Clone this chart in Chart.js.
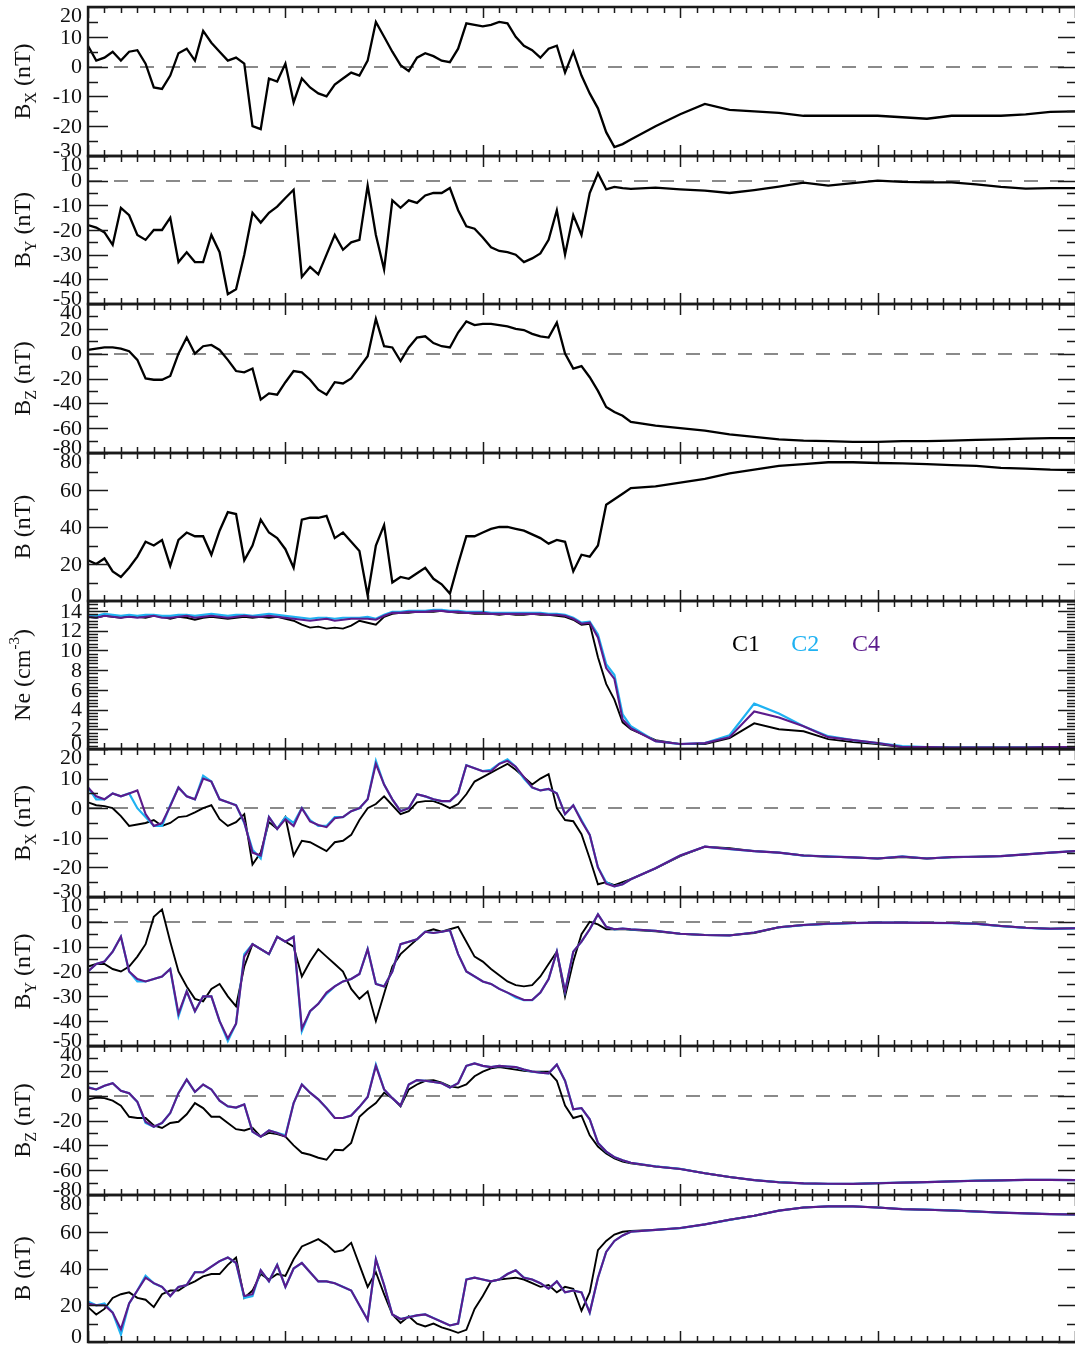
<!DOCTYPE html>
<html>
<head>
<meta charset="utf-8">
<script src="https://cdn.jsdelivr.net/npm/chart.js@4.4.1/dist/chart.umd.min.js"></script>
<style>
  html, body { margin: 0; padding: 0; background: #ffffff; }
  #fig { position: relative; width: 1075px; height: 1346px; overflow: hidden; background: #ffffff; }
  #fig canvas { position: absolute; left: 0; }
</style>
</head>
<body>
<div id="fig"></div>
<script>
// Time axis (minutes from start of interval)
const TIME = [
  0, 0.5, 1, 1.5, 2, 2.5, 3, 3.5, 4, 4.5,
  5, 5.5, 6, 6.5, 7, 7.5, 8, 8.5, 9, 9.5,
  10, 10.5, 11, 11.5, 12, 12.5, 13, 13.5, 14, 14.5,
  15, 15.5, 16, 16.5, 17, 17.5, 18, 18.5, 19, 19.5,
  20, 20.5, 21, 21.5, 22, 22.5, 23, 23.5, 24, 24.5,
  25, 25.5, 26, 26.5, 27, 27.5, 28, 28.5, 29, 29.5,
  30, 30.5, 31, 31.5, 32, 32.5, 33,
  34.5, 36, 37.5, 39, 40.5, 42, 43.5, 45, 46.5, 48, 49.5, 51, 52.5, 54, 55.5, 57, 58.5, 60
];

// Upper block: single-spacecraft magnetic field (nT)
const BX_TOP = [
  7, 2, 3, 5, 2, 5, 5.5, 1, -7, -7.5,
  -3, 4.5, 6, 2, 12, 8, 5, 2, 3, 1,
  -20, -21, -4, -5, 1, -12, -4, -7, -9, -10,
  -6, -4, -2, -3, 2, 15, 10, 5, 0.5, -1.5,
  3, 4.5, 3.5, 2, 1.5, 6, 14.5, 14, 13.5, 14,
  15, 14.5, 10, 7, 5.5, 3, 6, 7, -2, 5,
  -3, -9, -14, -22, -27, -26, -24.5,
  -20, -16, -12.5, -14.5, -15, -15.5, -16.5, -16.5, -16.5, -16.5, -17, -17.5, -16.5, -16.5, -16.5, -16, -15.2, -15
];
const BY_TOP = [
  -18, -19, -21, -26, -11, -14, -22, -24, -20, -20,
  -15, -33, -29, -33, -33, -22, -29, -46, -44, -30,
  -13, -17, -13, -10.5, -7, -3.7, -39, -35, -38, -30,
  -22, -28, -25, -24, -2, -22, -36, -8, -11, -8,
  -9, -6, -5, -5, -3, -12, -18.5, -19.5, -23, -27,
  -28.5, -29, -30, -33, -31.5, -29.5, -24, -12, -30, -14,
  -22, -5, 3, -3.5, -2.5, -3, -3.3,
  -2.8, -3.5, -4, -5, -3.8, -2.4, -0.8, -2, -1, 0, -0.5, -0.7, -0.7, -1.5, -2.5, -3.2, -3, -3
];
const BZ_TOP = [
  3, 4, 5, 5, 4, 2, -5, -20, -21, -21,
  -18, 0, 13, 0, 6, 7, 3, -5, -14, -15,
  -12, -37, -32, -33, -23, -14, -15, -21, -29, -33,
  -23, -24, -20, -11, -2, 28, 6, 5, -6, 5,
  13, 14, 8.5, 6, 5, 17, 26, 23, 24, 24,
  23, 22, 20, 19, 16, 14, 13, 25, 0, -12,
  -10, -19, -30, -43, -47, -50, -55,
  -58, -60, -62, -65, -67, -69, -70, -70.5, -71, -71, -70.5, -70.5, -70, -69.5, -69, -68.5, -68, -68
];
const B_TOP = [
  22, 20, 23, 16, 13, 18, 24, 32, 30, 33,
  19, 33, 37, 35, 35, 25, 38, 48, 47, 22,
  30, 44, 37, 34, 28, 18, 44, 45, 45, 46,
  34, 37, 32, 27, 3, 30, 41, 10, 13, 12,
  15, 18, 12, 9, 4, 20, 35, 35, 37, 39,
  40, 40, 39, 38, 36, 34, 31, 33, 32, 16,
  25, 24, 30, 52, 55, 58, 61,
  62, 64, 66, 69, 71, 73, 74, 75, 75, 74.6, 74.4, 74, 73.5, 73, 72, 71.5, 71, 70.8
];

// Electron density (cm^-3) for C1, C2, C4
const NE_C1 = [
  13.4, 13.3, 13.5, 13.4, 13.3, 13.5, 13.4, 13.3, 13.5, 13.4,
  13.2, 13.4, 13.3, 13.1, 13.3, 13.4, 13.3, 13.2, 13.3, 13.4,
  13.3, 13.4, 13.3, 13.4, 13.2, 13.0, 12.6, 12.3, 12.4, 12.2,
  12.3, 12.2, 12.5, 13.0, 12.8, 12.6, 13.4, 13.7, 13.8, 13.8,
  13.9, 13.9, 13.9, 14.0, 13.9, 13.8, 13.8, 13.7, 13.7, 13.7,
  13.6, 13.7, 13.6, 13.6, 13.7, 13.6, 13.6, 13.5, 13.4, 13.1,
  12.6, 12.7, 9.3, 6.6, 5.0, 2.7, 2.0,
  0.9, 0.5, 0.5, 1.1, 2.6, 2.0, 1.8, 1.0, 0.7, 0.5, 0.2, 0.2, 0.15, 0.15, 0.15, 0.15, 0.2, 0.2
];
const NE_C2 = [
  13.6, 13.5, 13.7, 13.6, 13.5, 13.6, 13.5, 13.6, 13.6, 13.5,
  13.5, 13.6, 13.6, 13.5, 13.6, 13.7, 13.6, 13.5, 13.6, 13.6,
  13.5, 13.6, 13.7, 13.6, 13.5, 13.4, 13.3, 13.2, 13.3, 13.3,
  13.2, 13.3, 13.3, 13.3, 13.4, 13.2, 13.6, 13.9, 13.9, 14.0,
  14.0, 14.0, 14.1, 14.1, 14.0, 14.0, 13.9, 13.9, 13.9, 13.8,
  13.8, 13.8, 13.8, 13.8, 13.8, 13.8, 13.7, 13.7, 13.6, 13.3,
  12.8, 12.9, 11.6, 8.6, 7.5, 3.5, 2.3,
  0.8, 0.5, 0.6, 1.4, 4.6, 3.6, 2.3, 1.3, 0.9, 0.6, 0.3, 0.2, 0.15, 0.15, 0.15, 0.15, 0.2, 0.2
];
const NE_C4 = [
  13.4, 13.3, 13.5, 13.4, 13.3, 13.4, 13.3, 13.4, 13.5, 13.3,
  13.3, 13.4, 13.5, 13.3, 13.4, 13.5, 13.4, 13.3, 13.4, 13.5,
  13.4, 13.4, 13.5, 13.4, 13.3, 13.2, 13.1, 13.0, 13.1, 13.2,
  13.0, 13.1, 13.2, 13.2, 13.2, 13.1, 13.5, 13.8, 13.8, 13.9,
  13.9, 13.9, 14.0, 14.0, 13.9, 13.9, 13.8, 13.8, 13.8, 13.7,
  13.7, 13.7, 13.7, 13.7, 13.7, 13.7, 13.6, 13.6, 13.5, 13.2,
  12.7, 12.8, 11.3, 8.2, 7.1, 3.0, 2.1,
  0.8, 0.5, 0.6, 1.2, 3.8, 3.2, 2.3, 1.2, 0.9, 0.6, 0.2, 0.2, 0.15, 0.15, 0.15, 0.15, 0.2, 0.2
];

// Lower block: magnetic field (nT) for C1, C2, C4
const BX_C1 = [
  2, 1, 0.7, 0, -2.7, -6, -5.5, -5, -4, -6,
  -5, -3, -2.7, -1.4, 0, 1, -3.7, -6, -4.7, -2,
  -19, -15, -4.7, -7, -3, -16, -11, -11.5, -13, -14.5,
  -11.5, -11, -9, -4, 0, 1.4, 4, 1, -2, -1,
  2, 2.4, 2.4, 1.4, 0, 1.4, 4.7, 9, 10.5, 12,
  13.5, 15, 13, 10.5, 8, 10, 11.5, 0, -4, -4.4,
  -8.8, -17, -25.7, -25, -26, -25, -24,
  -20.3, -16.2, -13, -13.5, -14.5, -15, -16, -16.4, -16.6, -17, -16.5, -17, -16.6, -16.4, -16.2, -15.6, -15, -14.5
];
const BX_C2 = [
  7, 3, 3, 5, 4, 5, 0, -3, -6, -6,
  1, 7, 4, 3, 11, 9, 3, 2, 1, -5,
  -14, -17, -3, -7, -3, -5, 0, -4, -6, -6,
  -3, -3, -1, 0, 3, 16, 8, 3, -1, 0,
  4.7, 4, 3, 2.4, 2.4, 5, 14.5, 13.5, 12.5, 13,
  15, 16.5, 14, 10, 7, 6, 6.5, 5, -2, 1,
  -4, -9, -20, -25, -26.4, -25.7, -24,
  -20.3, -16, -13, -13.8, -14.5, -15, -16, -16.3, -16.6, -17, -16.3, -17, -16.5, -16.4, -16.2, -15.6, -15, -14.5
];
const BX_C4 = [
  7, 4, 3, 5, 4, 5, 6, -2, -6, -5,
  0.7, 7, 4, 3, 10, 9, 3, 2, 1, -4.7,
  -15, -16, -3, -7, -3.7, -6, 0, -4.5, -5.7, -6.4,
  -3.4, -3, -1, 0, 3, 15, 8, 3, -1, 0,
  4.7, 4, 3, 2.4, 2.4, 5, 14.5, 13.5, 12.5, 12.5,
  15, 16, 14, 10.5, 7, 6, 6.5, 5, -2, 1,
  -4.4, -9, -20, -25.5, -26.4, -25.7, -24,
  -20.3, -16, -13, -13.8, -14.5, -15, -16, -16.3, -16.6, -17, -16.3, -17, -16.5, -16.4, -16.2, -15.6, -15, -14.5
];
const BY_C1 = [
  -18, -17, -17, -19, -20, -18, -14, -9, 2, 5,
  -8, -20, -26, -31, -32, -27, -25, -30, -34, -18,
  -9, -11, -13, -6, -8, -10, -22, -16, -11, -14,
  -17, -20, -27, -31, -28, -40, -29, -18, -13, -10,
  -7, -4, -3, -4, -3, -2, -8, -14, -16, -19,
  -21.5, -24, -25.5, -26, -25.5, -22, -17, -12, -30, -16,
  -5, 0, -1, -3, -3, -2.9, -3.2,
  -3.8, -4.8, -5.3, -5.4, -4.5, -2.2, -1.3, -0.8, -0.5, -0.3, -0.3, -0.4, -0.5, -0.8, -1.7, -2.4, -2.8, -2.6
];
const BY_C2 = [
  -20, -17, -16, -12, -6, -20, -24, -24, -23, -22,
  -19, -38, -28, -36, -30, -30, -40, -48, -41, -13,
  -9, -11, -13, -6, -8, -6, -44, -36, -33, -29,
  -26, -24, -23, -21, -11, -25, -26, -20, -9, -8,
  -7, -4, -4.5, -4, -3.4, -13, -20, -22, -24, -25,
  -27, -28.5, -30.5, -31.5, -31.5, -28.5, -23, -12, -28, -12,
  -8, -3, 3, -2, -3, -2.7, -3,
  -3.6, -4.8, -5.3, -5.5, -4.3, -2.2, -1.3, -0.8, -0.5, -0.3, -0.3, -0.4, -0.5, -0.8, -1.7, -2.4, -2.8, -2.6
];
const BY_C4 = [
  -20, -17, -16, -12, -6, -20, -23, -24, -23, -22,
  -19, -37, -28, -36, -30, -30, -40, -47, -41, -14,
  -9, -11, -13, -6, -8, -6, -43, -36, -33, -28.5,
  -26, -24, -23, -21, -11, -25, -26, -20, -9, -8,
  -7, -4, -4.5, -4, -3.4, -13, -20, -22, -24, -25,
  -27, -28.5, -30, -31.5, -31.5, -28.5, -23, -12, -28, -12,
  -8, -3, 3, -2, -3, -2.7, -3,
  -3.6, -4.8, -5.3, -5.5, -4.3, -2.2, -1.3, -0.8, -0.5, -0.3, -0.3, -0.4, -0.5, -0.8, -1.7, -2.4, -2.8, -2.6
];
const BZ_C1 = [
  -3, -1.6, -2, -4, -8, -17, -18, -18, -24, -26,
  -22, -21, -15, -6, -10, -17, -17, -22, -27, -28,
  -26, -33, -30, -31, -33, -40, -46, -47.6, -50, -51.6,
  -43.5, -44, -38, -17, -11, -6, 2.4, -2, -8.6, 5,
  9, 12, 12.5, 10.5, 7.5, 6.5, 9, 15.6, 19.4, 22,
  23, 22, 21, 20, 19.4, 19.4, 19.4, 12, -8, -18,
  -16, -32, -41, -46.5, -50.5, -53, -54.5,
  -57, -59, -62.5, -65.5, -68, -69.7, -70.6, -71, -71, -70.5, -70, -69.6, -69, -68.5, -68.2, -67.8, -67.8, -68
];
const BZ_C2 = [
  7, 5, 8, 10, 4, 2, -5, -22, -25, -22,
  -14, 2, 13, 3, 9, 5, -4, -8.6, -9.6, -7,
  -29, -33, -28, -30, -32, -6, 9, 2.4, -3, -10,
  -18, -18, -16, -9, -1, 25, 5, -2, -8, 9,
  12.5, 12, 11, 10, 6.5, 10, 24, 26, 24, 23,
  24, 23.5, 23, 21, 19.4, 18.5, 18, 25, 12, -11,
  -10, -19, -38, -45, -49.5, -52, -54,
  -57, -59, -62.5, -65.5, -68, -69.7, -70.6, -71, -71, -70.5, -70, -69.6, -69, -68.5, -68.2, -67.8, -67.8, -68
];
const BZ_C4 = [
  6.5, 5, 8, 10, 4, 2, -5, -21, -25, -22,
  -14, 2, 13, 3, 9, 5, -4, -8.6, -9.6, -7,
  -29, -33, -28, -30, -33, -6, 9, 2.4, -3, -10,
  -18, -18, -16, -9, -1, 24, 5, -2, -8, 9,
  12.5, 12, 11, 10, 6.5, 10, 24, 26, 24, 23,
  24, 23.5, 23, 21, 19.4, 18.5, 18, 25, 12, -11,
  -10, -19, -38, -45, -49.5, -52, -54,
  -57, -59, -62.5, -65.5, -68, -69.7, -70.6, -71, -71, -70.5, -70, -69.6, -69, -68.5, -68.2, -67.8, -67.8, -68
];
const B_C1 = [
  19, 15, 18, 24, 26, 27, 24, 23, 19, 26,
  28, 28, 31, 33, 35.7, 37, 37, 42, 46, 24,
  28, 37, 34, 37, 36, 45, 52, 54, 56, 53,
  49, 50, 54, 42, 30, 38, 26, 15, 10.4, 14,
  10, 8.5, 10, 8, 6.6, 5, 6.6, 18, 25, 33,
  34, 34.5, 35, 34, 32, 30, 31, 27, 30, 29,
  17, 27, 50, 55, 58.5, 60, 60.5,
  61, 62, 64, 66.5, 68.7, 71.5, 73.2, 73.8, 73.8, 73.2, 72.3, 72, 71.6, 71, 70.4, 70, 69.6, 69.4
];
const B_C2 = [
  22, 20, 21, 16, 4, 21, 28, 36, 32, 30,
  25, 30, 31, 38, 38, 41, 44, 46, 43, 24,
  25, 39, 33, 42, 30, 40, 43, 38, 33, 33,
  32, 30, 28, 20, 12, 45, 31, 15, 12.5, 13.5,
  14.5, 15, 13, 11, 9, 10, 34, 35, 34, 33,
  34, 37, 39, 35, 34, 32, 29, 33, 27, 28,
  27, 16, 35, 49, 55, 58, 60,
  61, 62, 64, 66.5, 68.7, 71.5, 73.2, 73.8, 73.8, 73.2, 72.3, 72, 71.6, 71, 70.4, 70, 69.6, 69.4
];
const B_C4 = [
  21, 20, 20, 16, 7, 21, 28, 35, 32, 30,
  25, 30, 31, 38, 38, 41, 44, 46, 43, 25,
  26, 39, 33, 42, 30, 40, 43, 38, 33, 33,
  32, 30, 28, 20, 12, 45, 31, 15, 12.5, 13.5,
  14.5, 15, 13, 11, 9, 10, 34, 35, 34, 33,
  34, 37, 39, 35, 34, 32, 29, 33, 27, 28,
  27, 16, 35, 49, 55, 58, 60,
  61, 62, 64, 66.5, 68.7, 71.5, 73.2, 73.8, 73.8, 73.2, 72.3, 72, 71.6, 71, 70.4, 70, 69.6, 69.4
];

// Tick labels of each kind of panel
const TICKS_BX = [20, 10, 0, -10, -20, -30];
const TICKS_BY = [10, 0, -10, -20, -30, -40, -50];
const TICKS_BZ = [40, 20, 0, -20, -40, -60, -80];
const TICKS_B = [80, 60, 40, 20, 0];
const TICKS_NE = [14, 12, 10, 8, 6, 4, 2, 0];

const SPACECRAFT = ['C1', 'C2', 'C4'];
const COLORS = { C1: '#000000', C2: '#1fb2f2', C4: '#5b1b8c' };

const SERIF = '"Liberation Serif", "Times New Roman", serif';
const PAD = 16;
const X_MIN = 0, X_MAX = 60;

const multi = (c1, c2, c4) => [
  { name: 'C1', values: c1, color: COLORS.C1, width: 1.9, order: 3 },
  { name: 'C2', values: c2, color: COLORS.C2, width: 2.2, order: 2 },
  { name: 'C4', values: c4, color: COLORS.C4, width: 2.1, order: 1 }
];
const single = (v) => [{ name: 'C1', values: v, color: '#000000', width: 2.3, order: 1 }];

const PANELS = [
  { top: 7,    bottom: 156,  min: -30, max: 20, ticks: TICKS_BX, minor: 5, zero: true, title: { main: 'B', sub: 'X', rest: ' (nT)' }, series: single(BX_TOP) },
  { top: 156,  bottom: 304,  min: -50, max: 10, ticks: TICKS_BY, minor: 5, zero: true, title: { main: 'B', sub: 'Y', rest: ' (nT)' }, series: single(BY_TOP) },
  { top: 304,  bottom: 453,  min: -80, max: 40, ticks: TICKS_BZ, minor: 10, zero: true, title: { main: 'B', sub: 'Z', rest: ' (nT)' }, series: single(BZ_TOP) },
  { top: 453,  bottom: 601,  min: 0,   max: 80, ticks: TICKS_B,  minor: 10, zero: false, title: { main: 'B (nT)' }, series: single(B_TOP) },
  { top: 601,  bottom: 749,  min: 0,   max: 15, ticks: TICKS_NE, minor: 1 / 3, zero: false, title: { main: 'Ne (cm', sup: '-3', rest: ')' }, series: multi(NE_C1, NE_C2, NE_C4), legend: true },
  { top: 749,  bottom: 897,  min: -30, max: 20, ticks: TICKS_BX, minor: 5, zero: true, title: { main: 'B', sub: 'X', rest: ' (nT)' }, series: multi(BX_C1, BX_C2, BX_C4) },
  { top: 897,  bottom: 1046, min: -50, max: 10, ticks: TICKS_BY, minor: 5, zero: true, title: { main: 'B', sub: 'Y', rest: ' (nT)' }, series: multi(BY_C1, BY_C2, BY_C4) },
  { top: 1046, bottom: 1195, min: -80, max: 40, ticks: TICKS_BZ, minor: 10, zero: true, title: { main: 'B', sub: 'Z', rest: ' (nT)' }, series: multi(BZ_C1, BZ_C2, BZ_C4) },
  { top: 1195, bottom: 1342, min: 0,   max: 80, ticks: TICKS_B,  minor: 10, zero: false, title: { main: 'B (nT)' }, series: multi(B_C1, B_C2, B_C4) }
];

// Draws the panel frame, inward ticks, zero line, tick labels, axis title and legend
const panelFrame = {
  id: 'panelFrame',
  beforeDatasetsDraw(chart, args, o) {
    if (!o.zero) return;
    const { ctx, chartArea: a } = chart;
    const y = chart.scales.y;
    const yy = Math.round(y.getPixelForValue(0));
    ctx.save();
    ctx.strokeStyle = '#8a8a8a';
    ctx.lineWidth = 2;
    ctx.setLineDash([14, 12]);
    ctx.beginPath();
    ctx.moveTo(a.left, yy);
    ctx.lineTo(a.right, yy);
    ctx.stroke();
    ctx.restore();
  },
  afterDatasetsDraw(chart, args, o) {
    const { ctx, chartArea: a } = chart;
    const x = chart.scales.x, y = chart.scales.y;
    ctx.save();
    ctx.strokeStyle = '#1a1a1a';
    ctx.lineWidth = 1.5;
    ctx.beginPath();
    for (let t = X_MIN; t <= X_MAX; t++) {
      const px = Math.round(x.getPixelForValue(t)) + 0.5;
      const len = t % 12 === 0 ? 11 : 6;
      ctx.moveTo(px, a.top); ctx.lineTo(px, a.top + len);
      ctx.moveTo(px, a.bottom); ctx.lineTo(px, a.bottom - len);
    }
    const n = Math.round((o.max - o.min) / o.minor);
    for (let k = 0; k <= n; k++) {
      const v = o.min + k * o.minor;
      const py = Math.round(y.getPixelForValue(v)) + 0.5;
      const major = o.ticks.some(l => Math.abs(l - v) < 1e-6);
      ctx.moveTo(a.left, py); ctx.lineTo(a.left + (major ? 20 : 10), py);
      ctx.moveTo(a.right, py); ctx.lineTo(a.right - (major ? 17 : 8), py);
    }
    ctx.stroke();

    ctx.lineWidth = 2.4;
    ctx.beginPath();
    ctx.moveTo(a.right, a.top);
    ctx.lineTo(a.left, a.top);
    ctx.lineTo(a.left, a.bottom);
    ctx.lineTo(a.right, a.bottom);
    ctx.stroke();

    // tick labels
    ctx.fillStyle = '#111111';
    ctx.font = '22px ' + SERIF;
    ctx.textAlign = 'right';
    ctx.textBaseline = 'middle';
    o.ticks.forEach(v => {
      let py = y.getPixelForValue(v);
      if (v === o.max) py += 8;
      else if (v === o.min) py -= 6;
      ctx.fillText(String(v), a.left - 6, py + 1);
    });

    // rotated axis title with sub/superscript
    const t = o.title;
    const parts = [{ s: t.main, size: 24, dy: 0 }];
    if (t.sub) parts.push({ s: t.sub, size: 16, dy: 6 });
    if (t.sup) parts.push({ s: t.sup, size: 15, dy: -11 });
    if (t.rest) parts.push({ s: t.rest, size: 24, dy: 0 });
    let total = 0;
    parts.forEach(p => { ctx.font = p.size + 'px ' + SERIF; p.w = ctx.measureText(p.s).width; total += p.w; });
    const cy = (a.top + a.bottom) / 2;
    ctx.translate(22, cy);
    ctx.rotate(-Math.PI / 2);
    ctx.textAlign = 'left';
    ctx.textBaseline = 'alphabetic';
    let cx = -total / 2;
    parts.forEach(p => {
      ctx.font = p.size + 'px ' + SERIF;
      ctx.fillText(p.s, cx, 8 + p.dy);
      cx += p.w;
    });
    ctx.setTransform(1, 0, 0, 1, 0, 0);

    if (o.legend) {
      ctx.font = '24px ' + SERIF;
      ctx.textAlign = 'center';
      ctx.textBaseline = 'middle';
      const lx = [x.getPixelForValue(40), x.getPixelForValue(43.6), x.getPixelForValue(47.3)];
      const ly = y.getPixelForValue(10.6);
      SPACECRAFT.forEach((name, i) => {
        ctx.fillStyle = COLORS[name];
        ctx.fillText(name, lx[i], ly);
      });
    }
    ctx.restore();
  }
};

const fig = document.getElementById('fig');
PANELS.forEach(p => {
  const canvas = document.createElement('canvas');
  const h = p.bottom - p.top + 2 * PAD;
  canvas.width = 1075;
  canvas.height = h;
  canvas.style.width = '1075px';
  canvas.style.height = h + 'px';
  canvas.style.top = (p.top - PAD) + 'px';
  fig.appendChild(canvas);

  new Chart(canvas, {
    type: 'line',
    data: {
      datasets: p.series.map(s => ({
        label: s.name,
        data: TIME.map((t, i) => ({ x: t, y: s.values[i] })),
        borderColor: s.color,
        borderWidth: s.width,
        pointRadius: 0,
        tension: 0,
        fill: false,
        order: s.order
      }))
    },
    options: {
      responsive: false,
      animation: false,
      devicePixelRatio: 1,
      events: [],
      layout: { padding: { left: 88, right: 0, top: PAD, bottom: PAD } },
      scales: {
        x: { type: 'linear', min: X_MIN, max: X_MAX, display: false },
        y: { type: 'linear', min: p.min, max: p.max, display: false }
      },
      plugins: {
        legend: { display: false },
        tooltip: { enabled: false },
        panelFrame: {
          zero: p.zero, min: p.min, max: p.max, ticks: p.ticks, minor: p.minor,
          title: p.title, legend: !!p.legend
        }
      }
    },
    plugins: [panelFrame]
  });
});
</script>
</body>
</html>
